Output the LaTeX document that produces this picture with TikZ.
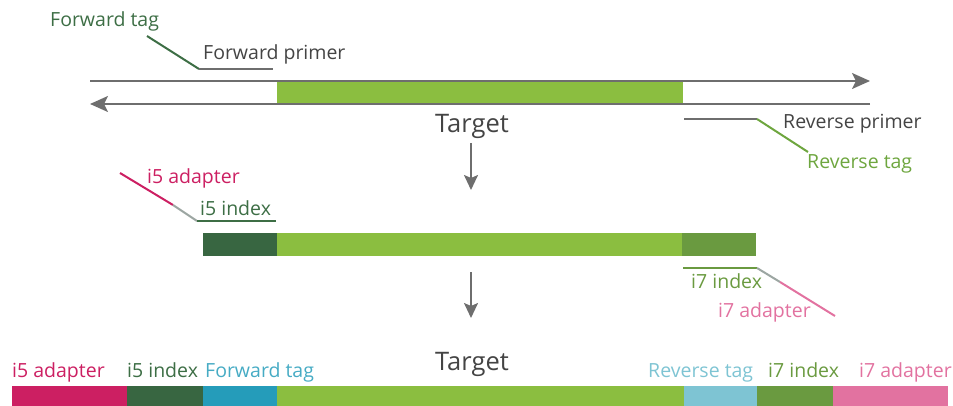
\documentclass[tikz,border=0pt]{standalone}
\usepackage{fontspec}
\setmainfont{Open Sans}
\usetikzlibrary{arrows.meta}

\definecolor{targetgreen}{HTML}{8BBE40}
\definecolor{indexdark}{HTML}{386641}
\definecolor{indexmid}{HTML}{6A9A40}
\definecolor{adapterpink}{HTML}{CC1F62}
\definecolor{adapterlight}{HTML}{E272A0}
\definecolor{tagblue}{HTML}{259CBA}
\definecolor{taglight}{HTML}{7EC4D3}
\definecolor{strandgray}{HTML}{6E6E6E}
\definecolor{fadegray}{HTML}{9CA6A2}
\definecolor{labelgray}{HTML}{444444}
\definecolor{fwdgreen}{HTML}{3D6E45}
\definecolor{revgreen}{HTML}{6EA63F}

\begin{document}
\begin{tikzpicture}
            [x=1pt, y=-1pt,
             every node/.style={font=\fontsize{19.5}{23}\selectfont, inner sep=0pt, anchor=base west},
             strand/.style={line width=2pt, draw=strandgray},
             leader/.style={line width=2pt},
             bigtext/.style={font=\fontsize{25.5}{30}\selectfont, text=labelgray, anchor=base},
             downarrow/.style={line width=2pt, draw=strandgray, -{Stealth[length=15pt, width=14pt, inset=3pt]}}]
            \useasboundingbox (0,0) rectangle (953,406);

            % Double strand with target
            \fill[targetgreen] (277,81) rectangle (683,104);
            \coordinate (fwdstart) at (90,81);
            \coordinate (fwdend) at (870,81);
            \coordinate (revstart) at (870,104);
            \coordinate (revend) at (90,104);
            \draw[strand, -{Stealth[length=18pt, width=16pt, inset=4pt]}] (fwdstart) -- (fwdend);
            \draw[strand, -{Stealth[length=18pt, width=16pt, inset=4pt]}] (revstart) -- (revend);

            % Forward primer and tag
            \coordinate (fwdtagtop) at (147,36);
            \coordinate (fwdbend) at (199,69);
            \coordinate (fwdprimerend) at (273,69);
            \draw[leader, fwdgreen] (fwdtagtop) -- (fwdbend);
            \draw[leader, strandgray] (fwdbend) -- (fwdprimerend);
            \node[text=fwdgreen] (fwdtag) at (50,27) {Forward tag};
            \node[text=labelgray] (fwdprimer) at (203,60) {Forward primer};

            % Reverse primer and tag
            \coordinate (revprimerstart) at (684,119);
            \coordinate (revbend) at (757,119);
            \coordinate (revtagend) at (808,152);
            \draw[leader, strandgray] (revprimerstart) -- (revbend);
            \draw[leader, revgreen] (revbend) -- (revtagend);
            \node[text=labelgray] (revprimer) at (783,129) {Reverse primer};
            \node[text=revgreen] (revtag) at (807,169) {Reverse tag};

            \node[bigtext] (target1) at (472,133) {Target};

            % First step
            \coordinate (step1top) at (471,143);
            \coordinate (step1bot) at (471,190);
            \draw[downarrow] (step1top) -- (step1bot);

            % Tagged amplicon
            \fill[indexdark] (203,233) rectangle (277,256);
            \fill[targetgreen] (277,233) rectangle (682,256);
            \fill[indexmid] (682,233) rectangle (756,256);

            % i5 leader
            \coordinate (i5top) at (120,173);
            \coordinate (i5fade) at (173,205);
            \coordinate (i5bend) at (197,221);
            \coordinate (i5end) at (276,221);
            \draw[leader, adapterpink] (i5top) -- (i5fade);
            \draw[leader, fadegray] (i5fade) -- (i5bend);
            \draw[leader, fwdgreen] (i5bend) -- (i5end);
            \node[text=adapterpink] (i5adapter) at (147,184) {i5 adapter};
            \node[text=fwdgreen] (i5index) at (200,215) {i5 index};

            % i7 leader
            \coordinate (i7start) at (683,268);
            \coordinate (i7bend) at (757,268);
            \coordinate (i7fade) at (780,282);
            \coordinate (i7bot) at (835,316);
            \draw[leader, indexmid] (i7start) -- (i7bend);
            \draw[leader, fadegray] (i7bend) -- (i7fade);
            \draw[leader, adapterlight] (i7fade) -- (i7bot);
            \node[text=indexmid] (i7index) at (691,288) {i7 index};
            \node[text=adapterlight] (i7adapter) at (718,317) {i7 adapter};

            % Second step
            \coordinate (step2top) at (471,272);
            \coordinate (step2bot) at (471,318);
            \draw[downarrow] (step2top) -- (step2bot);

            % Final library fragment
            \fill[adapterpink] (12,386) rectangle (127,407);
            \fill[indexdark] (127,386) rectangle (203,407);
            \fill[tagblue] (203,386) rectangle (277,407);
            \fill[targetgreen] (277,386) rectangle (684,407);
            \fill[taglight] (684,386) rectangle (757,407);
            \fill[indexmid] (757,386) rectangle (833,407);
            \fill[adapterlight] (833,386) rectangle (948,407);

            \node[text=adapterpink] (libi5adapter) at (12,377) {i5 adapter};
            \node[text=fwdgreen] (libi5index) at (127,377) {i5 index};
            \node[text=tagblue!85!white] (libfwdtag) at (205,377) {Forward tag};
            \node[bigtext] (target2) at (472,370) {Target};
            \node[text=taglight] (librevtag) at (648,377) {Reverse tag};
            \node[text=indexmid] (libi7index) at (768,377) {i7 index};
            \node[text=adapterlight] (libi7adapter) at (859,377) {i7 adapter};
        \end{tikzpicture}
\end{document}
